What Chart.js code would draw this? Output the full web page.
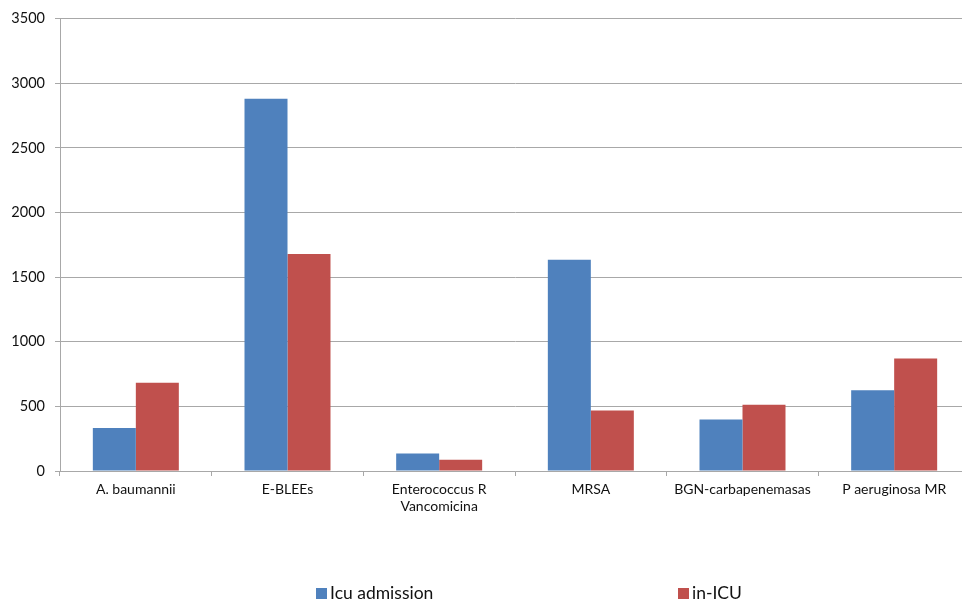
<!DOCTYPE html>
<html>
<head>
<meta charset="utf-8">
<script src="https://cdn.jsdelivr.net/npm/chart.js@4"></script>
<style>
  html, body { margin: 0; padding: 0; background: #fff; overflow: hidden; }
  #wrap { position: relative; width: 980px; height: 604px; }
</style>
</head>
<body>
<div id="wrap"><canvas id="c" width="980" height="604"></canvas></div>
<script>
// Multidrug-resistant organisms: counts at ICU admission vs. acquired in the ICU
const categories = [
  'A. baumannii',
  'E-BLEEs',
  ['Enterococcus R', 'Vancomicina'],
  'MRSA',
  'BGN-carbapenemasas',
  'P aeruginosa MR'
];
const icuAdmission = [332, 2880, 136, 1635, 399, 625];
const inIcu        = [682, 1680, 87, 468, 512, 870];
const seriesNames  = ['Icu admission', 'in-ICU'];
const yTicks       = [0, 500, 1000, 1500, 2000, 2500, 3000, 3500];

const BLUE = '#4F81BD';
const RED  = '#C0504D';
const GRID = '#a8a8a8';
const FONT = 'Lato, "Open Sans", "DejaVu Sans", sans-serif';

// Legend drawn below the axis, items spread apart
const bottomLegend = {
  id: 'bottomLegend',
  afterDraw(chart) {
    const ctx = chart.ctx;
    const items = [
      { x: 316, color: BLUE, text: seriesNames[0] },
      { x: 678, color: RED,  text: seriesNames[1] }
    ];
    const y = 593;
    ctx.save();
    ctx.font = '17.5px ' + FONT;
    ctx.textBaseline = 'middle';
    ctx.textAlign = 'left';
    items.forEach(it => {
      ctx.fillStyle = it.color;
      ctx.fillRect(it.x, y - 5, 11, 11);
      ctx.fillStyle = '#111';
      ctx.fillText(it.text, it.x + 14, y);
    });
    ctx.restore();
  }
};

new Chart(document.getElementById('c'), {
  type: 'bar',
  data: {
    labels: categories,
    datasets: [
      { label: seriesNames[0], data: icuAdmission, backgroundColor: BLUE },
      { label: seriesNames[1], data: inIcu, backgroundColor: RED }
    ]
  },
  options: {
    responsive: false,
    animation: false,
    layout: { padding: { left: 0, top: 15, right: 10, bottom: 0 } },
    datasets: {
      bar: { categoryPercentage: 0.567, barPercentage: 1.0 }
    },
    plugins: {
      legend: { display: false },
      tooltip: { enabled: false }
    },
    scales: {
      x: {
        grid: {
          offset: true,
          drawOnChartArea: false,
          drawTicks: true,
          tickLength: 5,
          color: GRID
        },
        border: { color: GRID, width: 1 },
        ticks: {
          color: '#111',
          font: { family: FONT, size: 14, lineHeight: 1.2 },
          padding: 5,
          maxRotation: 0,
          autoSkip: false
        },
        afterFit(scale) { scale.height = 133; }
      },
      y: {
        min: 0,
        max: 3500,
        afterBuildTicks(scale) { scale.ticks = yTicks.map(v => ({ value: v })); },
        grid: { color: GRID, tickLength: 5, lineWidth: 1 },
        border: { color: GRID, width: 1 },
        ticks: {
          color: '#111',
          font: { family: FONT, size: 14.5 },
          padding: 10,
          callback: v => String(v)
        },
        afterFit(scale) { scale.width = 60; }
      }
    }
  },
  plugins: [bottomLegend]
});
</script>
</body>
</html>
